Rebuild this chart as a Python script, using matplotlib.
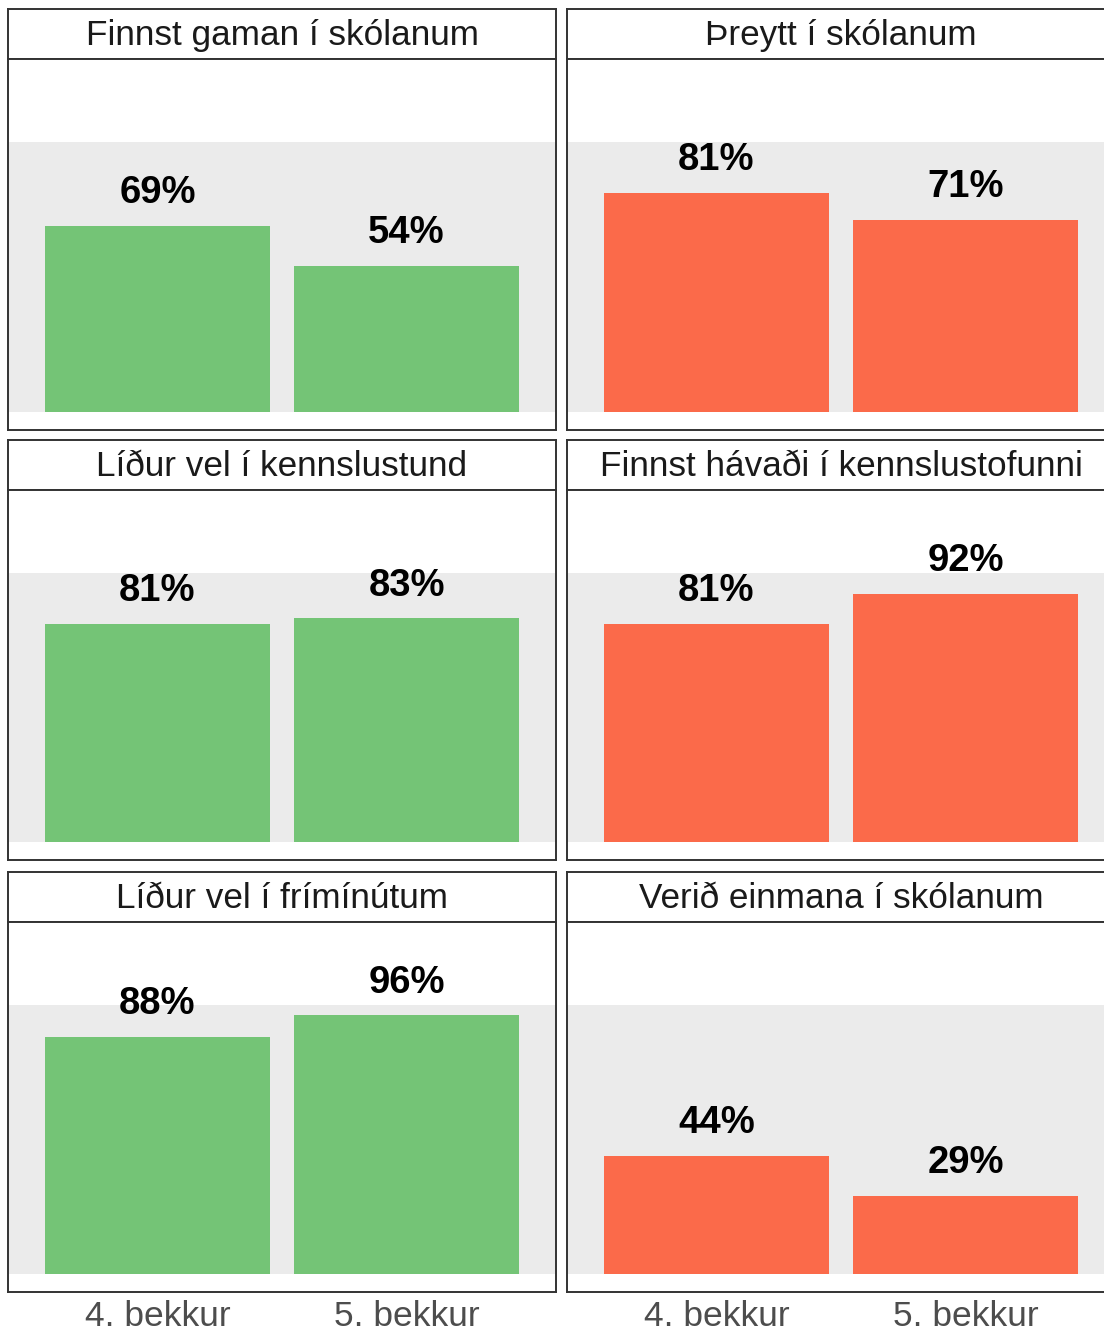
import matplotlib
matplotlib.use("Agg")
import matplotlib.pyplot as plt

plt.rcParams['font.family'] = ['Liberation Sans', 'DejaVu Sans']

groups = ["4. bekkur", "5. bekkur"]
titles = ["Finnst gaman í skólanum", "Þreytt í skólanum",
          "Líður vel í kennslustund", "Finnst hávaði í kennslustofunni",
          "Líður vel í frímínútum", "Verið einmana í skólanum"]
values = [[69, 54], [81, 71], [81, 83], [81, 92], [88, 96], [44, 29]]
colors = ["#74C476", "#FB6A4A", "#74C476", "#FB6A4A", "#74C476", "#FB6A4A"]

W, H = 1104, 1334
fig = plt.figure(figsize=(W / 100, H / 100), dpi=100)

def add_px(x0, y0, x1, y1):
    return fig.add_axes([x0 / W, 1 - y1 / H, (x1 - x0) / W, (y1 - y0) / H])

col_x = [(8, 556), (567, 1115)]
row_y = [(9, 59, 430), (440, 490, 860), (872, 922, 1292)]
edge = "#333333"
lw = 1.4

for i, (title, vals, col) in enumerate(zip(titles, values, colors)):
    r, c = divmod(i, 2)
    x0, x1 = col_x[c]
    s0, p0, p1 = row_y[r]
    # strip
    sax = add_px(x0, s0, x1, p0)
    sax.set_xticks([]); sax.set_yticks([])
    for sp in sax.spines.values():
        sp.set_color(edge); sp.set_linewidth(lw)
    sax.text(0.5, 0.46, title, ha='center', va='center', fontsize=25.3,
             color='#1A1A1A', transform=sax.transAxes)
    # panel
    ax = add_px(x0, p0, x1, p1)
    ax.axhspan(0, 1, color="#EBEBEB", zorder=0, lw=0)
    pos = [1, 2]
    fr = [v / 100 for v in vals]
    ax.bar(pos, fr, width=0.9, color=col, zorder=2)
    for p, f, v in zip(pos, fr, vals):
        ax.text(p, f + 0.085, f"{v}%", ha='center', va='baseline',
                fontsize=27.5, fontweight='bold', color='black', zorder=3)
    ax.set_xlim(0.4, 2.6)
    ax.set_ylim(-0.0667, 1.307)
    ax.set_yticks([])
    ax.set_xticks(pos)
    if r == 2:
        ax.set_xticklabels(groups, fontsize=25.5, color='#4D4D4D')
        ax.tick_params(axis='x', length=0, pad=6)
    else:
        ax.set_xticklabels([])
        ax.tick_params(axis='x', length=0)
    for sp in ax.spines.values():
        sp.set_color(edge); sp.set_linewidth(lw)

fig.savefig("out.png", dpi=100)
